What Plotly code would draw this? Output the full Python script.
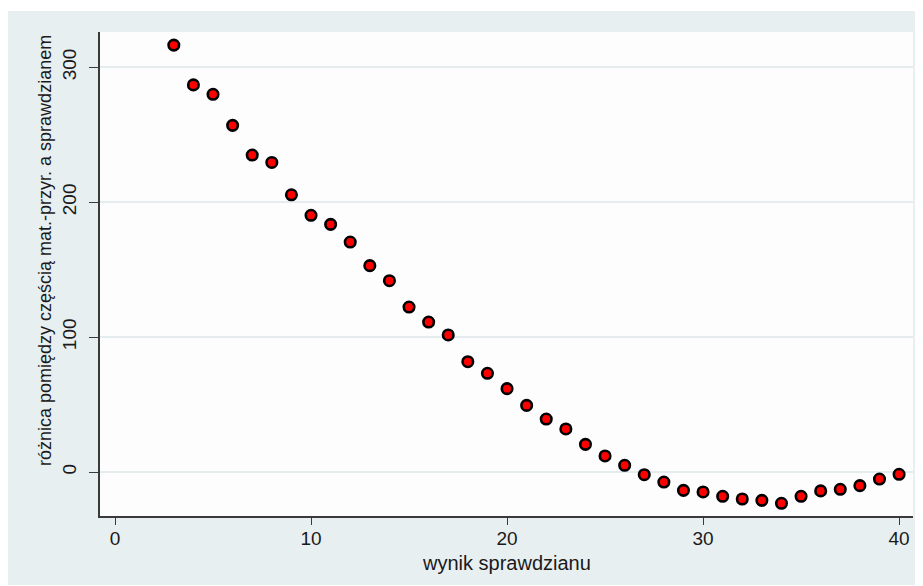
import plotly.graph_objects as go

# data
wynik = list(range(3, 41))
roznica = [316.5, 287, 280, 257, 235, 229.5, 205.5, 190.3, 183.6, 170.5,
           153, 141.8, 122.3, 111.2, 101.6, 81.8, 73.2, 61.8, 49.4, 39.3,
           31.9, 20.5, 11.9, 5, -2, -7.4, -13.6, -14.8, -18, -20,
           -21, -23.2, -18, -14, -12.8, -10.1, -5.2, -1.7]
x_ticks = [0, 10, 20, 30, 40]
y_ticks = [0, 100, 200, 300]
x_title = "wynik sprawdzianu"
y_title = "różnica pomiędzy częścią mat.-przyr. a sprawdzianem"

# the page body adds an 8px offset; the figure fills the rest of the window
OFF = 8
W, H = 915, 578
L, R, T, B = 92, 905, 24, 508   # plot area in figure pixels
OUTER = (0, 3, 915, 577)        # outer grey panel in figure pixels

def px2paper_x(p):
    return (p - L) / (R - L)

def px2paper_y(p):
    return (B - p) / (B - T)

FONT = "Liberation Sans, Arial, sans-serif"
TXT = "#1a1a1a"
AX = "#3a3a3a"

fig = go.Figure()
fig.add_trace(go.Scatter(
    x=wynik, y=roznica, mode="markers",
    marker=dict(size=10.5, color="#ff0000", line=dict(color="#000000", width=2.6)),
    showlegend=False, hoverinfo="x+y",
))

shapes = [
    dict(type="rect", xref="paper", yref="paper", layer="below",
         x0=px2paper_x(OUTER[0]), x1=px2paper_x(OUTER[2]),
         y0=px2paper_y(OUTER[3]), y1=px2paper_y(OUTER[1]),
         fillcolor="#e8eff1", line=dict(width=0)),
    dict(type="rect", xref="paper", yref="paper", layer="below",
         x0=0, x1=1, y0=0, y1=1, fillcolor="#fdfdfd", line=dict(width=0)),
]

annotations = [
    dict(text=x_title, xref="paper", yref="paper", showarrow=False,
         x=px2paper_x(506.5 - OFF), y=px2paper_y(563 - OFF),
         xanchor="center", yanchor="middle",
         font=dict(size=20, color=TXT, family=FONT)),
    dict(text=y_title, xref="paper", yref="paper", showarrow=False,
         x=px2paper_x(45 - OFF), y=px2paper_y(251 - OFF),
         xanchor="center", yanchor="middle", textangle=-90,
         font=dict(size=18, color=TXT, family=FONT)),
]

fig.update_layout(
    width=W, height=H,
    margin=dict(l=L, r=W - R, t=T, b=H - B, pad=0),
    paper_bgcolor="#ffffff",
    plot_bgcolor="#fdfdfd",
    shapes=shapes,
    annotations=annotations,
    font=dict(family=FONT, color=TXT, size=18),
    xaxis=dict(
        range=[-0.765, 40.71], tickvals=x_ticks,
        showgrid=False, zeroline=False,
        showline=True, linecolor=AX, linewidth=1.5,
        ticks="outside", ticklen=7, tickwidth=1.3, tickcolor=AX,
        ticklabelstandoff=-3,
        tickfont=dict(size=19, color=TXT),
        automargin=False,
    ),
    yaxis=dict(
        range=[-32.6, 326.2], tickvals=y_ticks,
        showgrid=True, gridcolor="#e4ecee", gridwidth=1.5,
        zeroline=False,
        showline=True, linecolor=AX, linewidth=1.5,
        ticks="outside", ticklen=9, tickwidth=1.3, tickcolor=AX,
        tickangle=-90, ticklabelstandoff=6,
        tickfont=dict(size=19, color=TXT),
        automargin=False,
    ),
)

fig.write_html("out.html")
